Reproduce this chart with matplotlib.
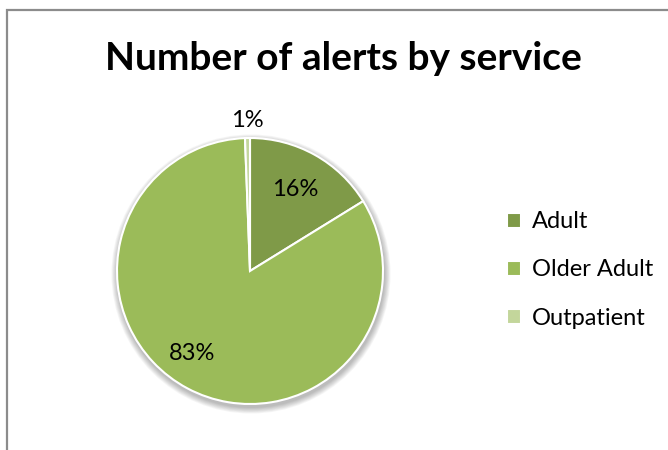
import numpy as np
import matplotlib.pyplot as plt
from matplotlib.patches import Rectangle, Circle

services = ["Adult", "Older Adult", "Outpatient"]
shares = [16.2, 83.2, 0.6]
colors = ["#7F9A48", "#9BBB59", "#C3D69B"]
title = "Number of alerts by service"

plt.rcParams['font.family'] = ['Lato', 'DejaVu Sans']

W, H = 668, 450
fig = plt.figure(figsize=(W / 100, H / 100), dpi=100)
ax = fig.add_axes([0, 0, 1, 1])

# chart frame (only left and top edges visible)
fig.patches.append(Rectangle((7 / W, -0.1), 1.2, (H - 10) / H + 0.1,
                             transform=fig.transFigure, fill=False,
                             edgecolor="#8c8c8c", linewidth=1.6))

cx, cy, r = 250, H - 271, 133

# soft shadow under the pie
for i in range(8):
    ax.add_patch(Circle((cx + 1, cy - 3), r + 1 + i * 0.8, color="black",
                        alpha=0.035, zorder=0, linewidth=0))

wedges, texts = ax.pie(shares, colors=colors, startangle=90, counterclock=False,
                       center=(cx, cy), radius=r, frame=True,
                       wedgeprops=dict(edgecolor="white", linewidth=1.5))
ax.set_xlim(0, W)
ax.set_ylim(0, H)
ax.set_aspect('equal')
ax.axis('off')

# data labels
label_dist = [0.70, 0.76, 1.13]
angle_shift = [0, -7, 0]
for w, v, d, s in zip(wedges, shares, label_dist, angle_shift):
    ang = np.deg2rad((w.theta1 + w.theta2) / 2 + s)
    ax.text(cx + d * r * np.cos(ang), cy + d * r * np.sin(ang), f"{v:.0f}%",
            ha="center", va="center", fontsize=17, color="black")

fig.text(343 / W, 1 - 58 / H, title, ha="center", va="center",
         fontsize=28, fontweight="bold")

ax.legend(wedges, services, loc="center left", bbox_to_anchor=(486 / W, 1 - 270 / H),
          bbox_transform=fig.transFigure, frameon=False, fontsize=17,
          handlelength=0.6, handleheight=0.6, handletextpad=0.45, labelspacing=1.15)

fig.savefig("out.png", dpi=100)
